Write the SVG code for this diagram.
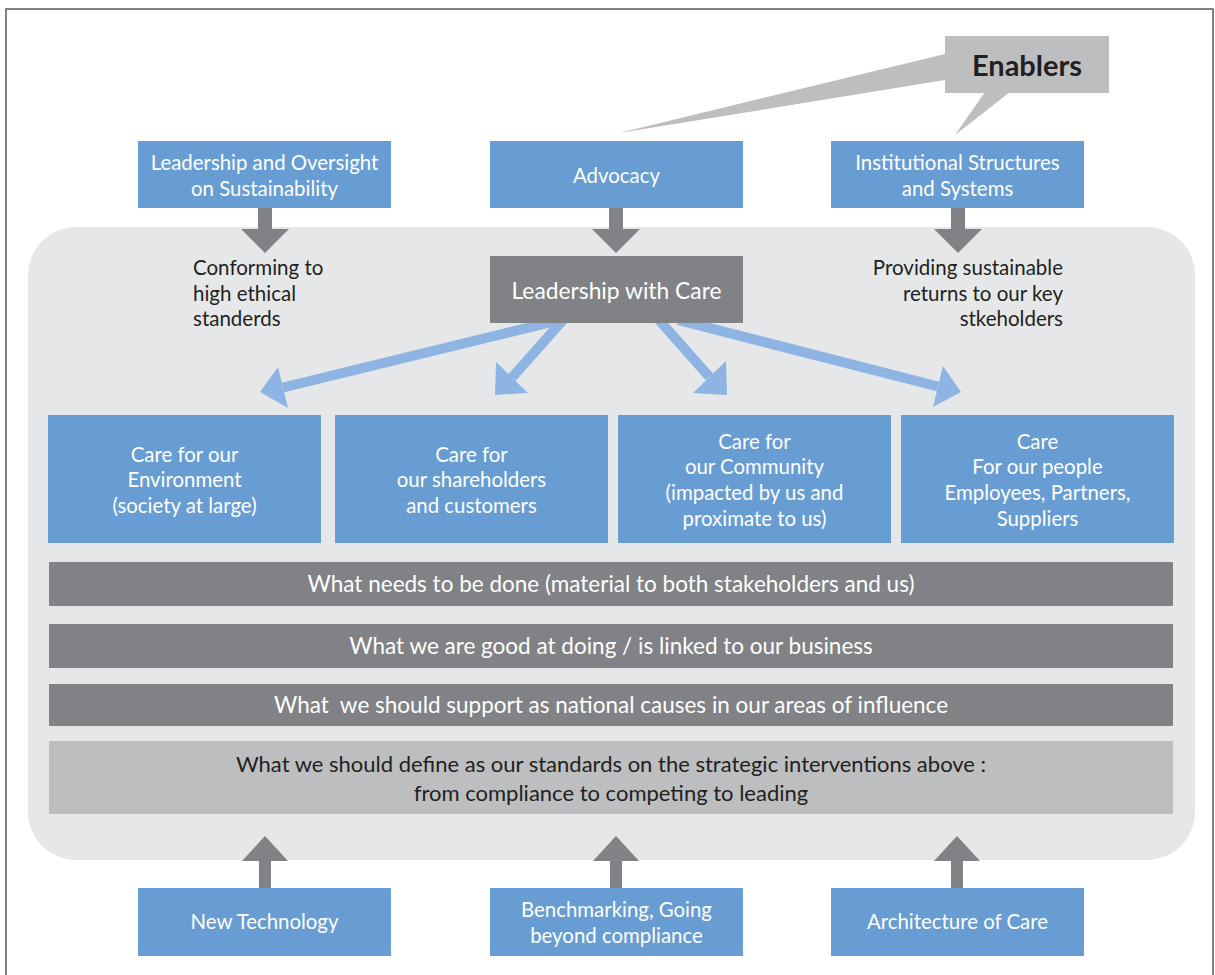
<svg xmlns="http://www.w3.org/2000/svg" width="1215" height="975" viewBox="0 0 1215 975">
<style>
  .blue{fill:#679dd2}
  .dark{fill:#808285}
  .wt{fill:#ffffff;font-family:Lato,"Liberation Sans",sans-serif;font-size:20.4px;text-anchor:middle}
  .bt{fill:#231f20;font-family:Lato,"Liberation Sans",sans-serif;font-size:20.5px}
  .bar{fill:#ffffff;font-family:Lato,"Liberation Sans",sans-serif;font-size:22.5px;text-anchor:middle}
  .bar2{fill:#231f20;font-family:Lato,"Liberation Sans",sans-serif;font-size:22px;text-anchor:middle}
  .ln{stroke:#8db4e2;stroke-width:10;fill:none}
  .hd{fill:#8db4e2}
  .ga{fill:#808285}
</style>
<rect x="0" y="0" width="1215" height="975" fill="#ffffff"/>
<rect x="6" y="9" width="1207" height="980" fill="none" stroke="#58595b" stroke-width="1.5"/>
<g id="panel">
  <rect x="28" y="227" width="1167" height="633" rx="48" ry="48" fill="#e6e7e8"/>
</g>
<g id="enablers">
  <polygon points="945,54 619,133 945,80" fill="#bcbec0"/>
  <polygon points="985,92 1010,92 955,135" fill="#bcbec0"/>
  <rect x="945" y="36" width="164" height="57" fill="#bcbec0"/>
  <text x="1027" y="76" text-anchor="middle" font-family="Lato,'Liberation Sans',sans-serif" font-weight="bold" font-size="29" fill="#231f20">Enablers</text>
</g>
<g id="connectors">
  <rect class="ga" x="258" y="207" width="14" height="24"/>
  <polygon class="ga" points="241,229 289,229 265,253"/>
  <rect class="ga" x="609" y="207" width="14" height="24"/>
  <polygon class="ga" points="592,229 640,229 616,253"/>
  <rect class="ga" x="951" y="207" width="14" height="24"/>
  <polygon class="ga" points="934,229 982,229 958,253"/>
  <line class="ln" x1="556" y1="321" x2="283" y2="387.5"/>
  <polygon class="hd" points="278,367 288,408 260,392"/>
  <line class="ln" x1="563" y1="320" x2="512" y2="377.5"/>
  <polygon class="hd" points="496,362 528,393 495,395"/>
  <line class="ln" x1="659" y1="320" x2="709.5" y2="377"/>
  <polygon class="hd" points="726,361 693,393 727,395"/>
  <line class="ln" x1="678" y1="320" x2="938" y2="386.5"/>
  <polygon class="hd" points="943,366 933,407 961,392"/>
  <rect class="ga" x="259" y="859" width="12" height="30"/>
  <polygon class="ga" points="242,861 288,861 265,836"/>
  <rect class="ga" x="610" y="859" width="12" height="30"/>
  <polygon class="ga" points="593,861 639,861 616,836"/>
  <rect class="ga" x="951" y="859" width="12" height="30"/>
  <polygon class="ga" points="934,861 980,861 957,836"/>
</g>
<g id="leadership-oversight">
  <rect class="blue" x="138" y="141" width="253" height="67"/>
  <text class="wt" x="264.5" y="170">Leadership and Oversight</text>
  <text class="wt" x="264.5" y="196">on Sustainability</text>
</g>
<g id="advocacy">
  <rect class="blue" x="490" y="141" width="253" height="67"/>
  <text class="wt" x="616.5" y="183">Advocacy</text>
</g>
<g id="institutional">
  <rect class="blue" x="831" y="141" width="253" height="67"/>
  <text class="wt" x="957.5" y="170">Institutional Structures</text>
  <text class="wt" x="957.5" y="196">and Systems</text>
</g>
<g id="leadership-care">
  <rect class="dark" x="490" y="256" width="253" height="67"/>
  <text class="wt" x="616.5" y="299" style="font-size:22.8px">Leadership with Care</text>
</g>
<g id="conforming">
  <text class="bt" x="193" y="275">Conforming to</text>
  <text class="bt" x="193" y="301">high ethical</text>
  <text class="bt" x="193" y="326">standerds</text>
</g>
<g id="providing">
  <text class="bt" x="1063" y="275" text-anchor="end">Providing sustainable</text>
  <text class="bt" x="1063" y="301" text-anchor="end">returns to our key</text>
  <text class="bt" x="1063" y="326" text-anchor="end">stkeholders</text>
</g>
<g id="care-environment">
  <rect class="blue" x="48" y="415" width="273" height="128"/>
  <text class="wt" x="184.5" y="462">Care for our</text>
  <text class="wt" x="184.5" y="487">Environment</text>
  <text class="wt" x="184.5" y="513">(society at large)</text>
</g>
<g id="care-shareholders">
  <rect class="blue" x="335" y="415" width="273" height="128"/>
  <text class="wt" x="471.5" y="462">Care for</text>
  <text class="wt" x="471.5" y="487">our shareholders</text>
  <text class="wt" x="471.5" y="513">and customers</text>
</g>
<g id="care-community">
  <rect class="blue" x="618" y="415" width="273" height="128"/>
  <text class="wt" x="754.5" y="449">Care for</text>
  <text class="wt" x="754.5" y="474">our Community</text>
  <text class="wt" x="754.5" y="500">(impacted by us and</text>
  <text class="wt" x="754.5" y="526">proximate to us)</text>
</g>
<g id="care-people">
  <rect class="blue" x="901" y="415" width="273" height="128"/>
  <text class="wt" x="1037.5" y="449">Care</text>
  <text class="wt" x="1037.5" y="474">For our people</text>
  <text class="wt" x="1037.5" y="500">Employees, Partners,</text>
  <text class="wt" x="1037.5" y="526">Suppliers</text>
</g>
<g id="bar-needs">
  <rect class="dark" x="49" y="562" width="1124" height="44"/>
  <text class="bar" x="611" y="592">What needs to be done (material to both stakeholders and us)</text>
</g>
<g id="bar-good">
  <rect class="dark" x="49" y="624" width="1124" height="44"/>
  <text class="bar" x="611" y="654">What we are good at doing / is linked to our business</text>
</g>
<g id="bar-support">
  <rect class="dark" x="49" y="684" width="1124" height="42"/>
  <text class="bar" x="611" y="713" xml:space="preserve">What  we should support as national causes in our areas of influence</text>
</g>
<g id="bar-standards">
  <rect x="49" y="741" width="1124" height="73" fill="#bcbec0"/>
  <text class="bar2" x="611" y="772">What we should define as our standards on the strategic interventions above :</text>
  <text class="bar2" x="611" y="801">from compliance to competing to leading</text>
</g>
<g id="new-technology">
  <rect class="blue" x="138" y="888" width="253" height="68"/>
  <text class="wt" x="264.5" y="929">New Technology</text>
</g>
<g id="benchmarking">
  <rect class="blue" x="490" y="888" width="253" height="68"/>
  <text class="wt" x="616.5" y="917">Benchmarking, Going</text>
  <text class="wt" x="616.5" y="943">beyond compliance</text>
</g>
<g id="architecture">
  <rect class="blue" x="831" y="888" width="253" height="68"/>
  <text class="wt" x="957.5" y="929">Architecture of Care</text>
</g>
</svg>
